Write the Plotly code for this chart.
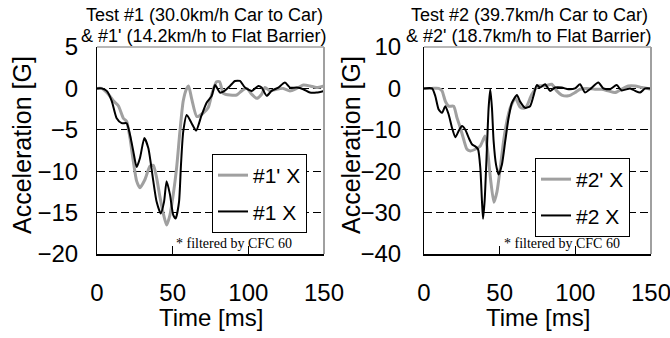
import plotly.graph_objects as go

# ---------------- data ----------------
# Test #1 (black) : 30.0 km/h car to car
t1 = [0, 3, 6.4, 9.7, 13, 16.3, 19.6, 21.8, 24, 26.2, 28.4, 31.3, 33.9, 37.2, 39.4, 42.1, 44.3, 46,
      48.2, 50.4, 52, 54.2, 55.5, 57, 59.3, 62.5, 65.5, 69, 72.5, 75.8, 78, 81.3, 83.5, 87.9, 91.2,
      94.5, 97.8, 102.2, 106.6, 108.8, 112.1, 115.4, 119.8, 124.2, 127.5, 131.9, 136.3, 140.7, 145.1, 150]
a1 = [0, 0, -0.3, -1.5, -3.6, -4.2, -4.2, -5.6, -7.6, -9.5, -8.4, -6.0, -7.2, -11.2, -13.7, -15.1, -13.7, -11.2,
      -12.8, -15.3, -15.7, -13.7, -9.2, -5.2, -3.2, -4.2, -5.1, -3.3, -1.7, -0.9, 0.4, -0.5, -0.4, 0.3, 0.9,
      0.9, 0.1, -0.3, 0.3, 0.1, -0.9, -0.3, 0.1, 0.7, 0.1, 0.1, -0.1, -0.5, -0.5, -0.3]

# Test #1' (grey) : 14.2 km/h to flat barrier
t1p = [0, 3, 7.5, 10.8, 14.1, 17.4, 19.6, 21.8, 24, 26.2, 28.4, 31.7, 35, 37.2, 39.4, 41.6, 43.8, 46,
       48.2, 50.4, 52.6, 54.8, 57, 59.3, 60.5, 62.5, 66, 70, 73.5, 76, 79, 81, 83.5, 87.9, 92.3, 95.6,
       98.9, 102.2, 105.5, 108.8, 111, 114.3, 118.7, 123.1, 127.5, 131.9, 136.3, 140.7, 145.1, 150]
a1p = [0, 0, -0.7, -1.5, -2.1, -3.6, -4.0, -6.0, -8.8, -11.2, -12.0, -11.0, -9.4, -9.3, -10.8, -13.1, -15.1, -16.5,
       -15.3, -12.8, -9.6, -5.2, -1.5, 0.0, 0.3, -1.2, -3.4, -3.0, -2.3, -0.6, 0.8, 0.8, -0.6, -0.8, -0.8, -0.3,
       0.0, -0.7, -1.2, -0.7, 0.1, -0.3, -0.1, 0.0, -0.3, 0.0, 0.4, 0.3, 0.1, 0.3]

# Test #2 (black) : 39.7 km/h car to car
t2 = [0, 5.3, 7.5, 9.7, 11.9, 14.1, 16.3, 18.5, 20.7, 22.9, 25.1, 27.3, 29.5, 31.7, 33.9, 35.7, 37.2, 38.3,
      39, 40.1, 41.6, 42.7, 43.8, 44.9, 46, 47.6, 49.3, 51.5, 53.7, 55.9, 58.1, 61.4, 63.5, 66.8, 70.1, 72.3,
      74.5, 76.7, 80, 83.3, 86.6, 91, 95.4, 99.8, 103.1, 106.4, 109.7, 115.2, 118.5, 122.9, 127.3, 130.6,
      136.2, 139.5, 142.8, 146.1, 150]
a2 = [0, 0, -1.9, -5.1, -5.9, -4.3, -6.3, -9.5, -11.8, -10.3, -9.1, -10, -11.9, -13.5, -14, -14.7, -19.2, -27.2,
      -31.5, -27, -14.3, -4.7, -0.2, -4.7, -12.7, -18.4, -20.8, -18.4, -12.7, -7.1, -3.5, -1.6, -3.2, -4.7, -4.3, -1.9,
      0.8, 0.2, 1.0, -0.6, 0.2, 0.2, -0.2, 0, 1.0, -1, -0.2, 1.4, 0, -0.2, 0.8, -0.5,
      0, -0.6, -1, 0, 0]

# Test #2' (grey) : 18.7 km/h to flat barrier
t2p = [0, 5, 9.7, 11.9, 14.1, 16.3, 19.6, 21.8, 24, 26.2, 28.4, 30.6, 33.9, 37.2, 40.3, 42, 44, 46.2,
       48.2, 50.4, 52.6, 54.8, 57, 60.3, 63.5, 66, 68, 71.2, 75.6, 80, 84.4, 87.7, 91, 95.4, 99.8, 103.1,
       107.5, 113, 117.4, 121.8, 126.2, 130.6, 135, 139.5, 143.9, 150]
a2p = [0, 0, 0, -0.6, -3.1, -4.3, -4.3, -7.1, -9.5, -12.3, -14.7, -15.1, -14.7, -13.9, -11.5, -15, -22, -27.5,
       -25, -19.2, -12.7, -7.9, -4.7, -2.3, -4.5, -4.8, -4.2, -1.5, 0.6, 0.6, 1.0, -0.6, -1.6, -1.8, -1.0, -0.2,
       0, -0.2, -0.2, -0.6, -1.0, -0.2, 0.6, 0.6, 0.2, -0.2]

x_ticks = [0, 50, 100, 150]
y1_ticks = [5, 0, -5, -10, -15, -20]
y2_ticks = [10, 0, -10, -20, -30, -40]

title_lines = [("Test #1 (30.0km/h Car to Car)", "&amp; #1' (14.2km/h to Flat Barrier)"),
               ("Test #2 (39.7km/h Car to Car)", "&amp; #2' (18.7km/h to Flat Barrier)")]
names = [("#1' X", "#1 X"), ("#2' X", "#2 X")]
note = "* filtered by CFC 60"

GREY = "#a0a0a0"
W, H = 670, 338
FONT = "Liberation Sans, Arial, sans-serif"

fig = go.Figure()
fig.add_trace(go.Scatter(x=t1p, y=a1p, mode="lines", name=names[0][0], line=dict(color=GREY, width=3, shape="spline", smoothing=0.6),
                         xaxis="x", yaxis="y", legend="legend", legendgroup="a"))
fig.add_trace(go.Scatter(x=t1, y=a1, mode="lines", name=names[0][1], line=dict(color="black", width=2, shape="spline", smoothing=0.6),
                         xaxis="x", yaxis="y", legend="legend", legendgroup="b"))
fig.add_trace(go.Scatter(x=t2p, y=a2p, mode="lines", name=names[1][0], line=dict(color=GREY, width=3, shape="spline", smoothing=0.6),
                         xaxis="x2", yaxis="y2", legend="legend2", legendgroup="c"))
fig.add_trace(go.Scatter(x=t2, y=a2, mode="lines", name=names[1][1], line=dict(color="black", width=2, shape="spline", smoothing=0.6),
                         xaxis="x2", yaxis="y2", legend="legend2", legendgroup="d"))

ydom = [1 - 254 / H, 1 - 47 / H]
xd1 = [97 / W, 324 / W]
xd2 = [424 / W, 651 / W]

def xax(dom, anchor):
    return dict(domain=dom, anchor=anchor, range=[0, 150], tickvals=x_ticks, ticks="inside", ticklen=8,
                tickcolor="black", showline=True, linecolor="black", linewidth=2, showgrid=False,
                zeroline=False, tickfont=dict(size=24, color="black", family=FONT), ticklabelstandoff=16,
                ticklabeloverflow="allow", automargin=False, fixedrange=True)

def yax(dom, anchor, rng, tv, standoff):
    return dict(domain=dom, anchor=anchor, range=rng, tickvals=tv, ticks="inside", ticklen=4,
                tickcolor="black", showline=True, linecolor="black", linewidth=1, showgrid=True,
                gridcolor="black", gridwidth=1, griddash="8px,4px", zeroline=False,
                tickfont=dict(size=24, color="black", family=FONT), ticklabelstandoff=standoff,
                ticklabeloverflow="allow", automargin=False, fixedrange=True)

leg_common = dict(bgcolor="white", bordercolor="black", borderwidth=1, xanchor="left", yanchor="top",
                  font=dict(size=21, color="black", family=FONT), itemwidth=30, tracegroupgap=6,
                  traceorder="grouped")

fig.update_layout(
    width=W, height=H, margin=dict(l=0, r=0, t=0, b=0, autoexpand=False),
    paper_bgcolor="white", plot_bgcolor="white",
    xaxis=xax(xd1, "y"), yaxis=yax(ydom, "x", [-20, 5], y1_ticks, 13),
    xaxis2=xax(xd2, "y2"), yaxis2=yax(ydom, "x2", [-40, 10], y2_ticks, 17),
    legend=dict(x=212 / W, y=1 - 154 / H, **leg_common),
    legend2=dict(x=535 / W, y=1 - 158 / H, **leg_common),
    font=dict(family=FONT, color="black"),
)

# grey top / right frame lines
for xr, yr in (("x domain", "y domain"), ("x2 domain", "y2 domain")):
    fig.add_shape(type="line", xref=xr, yref=yr, x0=0, x1=1, y0=1, y1=1, line=dict(color=GREY, width=1.5))
    fig.add_shape(type="line", xref=xr, yref=yr, x0=1, x1=1, y0=0, y1=1, line=dict(color=GREY, width=2))

ann = []
for cx, (l1, l2) in ((204, title_lines[0]), (529, title_lines[1])):
    for cy, txt in ((15, l1), (36, l2)):
        ann.append(dict(text=txt, x=cx / W, y=1 - cy / H, xref="paper", yref="paper", xanchor="center",
                        yanchor="middle", showarrow=False, font=dict(size=18, family=FONT, color="black")))
for cx in (211, 538):
    ann.append(dict(text="Time [ms]", x=cx / W, y=1 - 317 / H, xref="paper", yref="paper", xanchor="center",
                    yanchor="middle", showarrow=False, font=dict(size=24, family=FONT, color="black")))
for cx in (22, 351):
    ann.append(dict(text="Acceleration [G]", x=cx / W, y=1 - 145 / H, xref="paper", yref="paper", xanchor="center",
                    yanchor="middle", textangle=-90, showarrow=False, font=dict(size=25, family=FONT, color="black")))
for lx in (174, 502):
    ann.append(dict(text=note, x=lx / W, y=1 - 243 / H, xref="paper", yref="paper", xanchor="left",
                    yanchor="middle", showarrow=False,
                    font=dict(size=14, family="Liberation Serif, Times New Roman, serif", color="black")))
fig.update_layout(annotations=ann)

fig.write_html("out.html", config={"displayModeBar": False},
               post_script="document.body.style.margin='0';document.body.style.overflow='hidden';")
